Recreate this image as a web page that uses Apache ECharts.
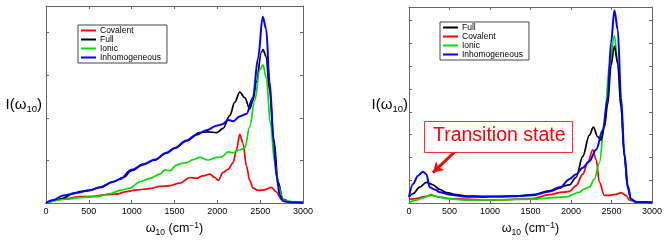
<!DOCTYPE html>
<html><head><meta charset="utf-8">
<script src="https://cdn.jsdelivr.net/npm/echarts@6/dist/echarts.min.js"></script>
<style>html,body{margin:0;padding:0;background:#fff}#c{width:666px;height:242px}</style>
</head><body><div id="c"></div>
<script>
// x-axis ticks (cm^-1)
const xTicks = [0, 500, 1000, 1500, 2000, 2500, 3000];

// Left panel: [omega10, intensity (arbitrary units, tick = 1)]
const leftCovalent = [[0,0],[240,0.11],[396,0.15],[551,0.16],[707,0.20],[824,0.21],[940,0.27],[1057,0.31],[1212,0.34],[1330,0.39],[1445,0.41],[1562,0.47],[1679,0.60],[1756,0.58],[1834,0.64],[1912,0.68],[1970,0.60],[2010,0.53],[2067,0.72],[2126,0.79],[2184,0.95],[2223,1.25],[2262,1.61],[2300,1.40],[2340,0.87],[2378,0.53],[2417,0.35],[2475,0.30],[2553,0.31],[2630,0.37],[2690,0.26],[2747,0.09],[2805,0.03],[3000,0.01]];
const leftFull = [[0,0],[163,0.09],[320,0.22],[396,0.27],[500,0.29],[630,0.37],[785,0.50],[900,0.60],[1000,0.76],[1135,0.90],[1270,1.01],[1405,1.17],[1500,1.28],[1640,1.46],[1795,1.65],[1892,1.67],[1990,1.65],[2067,1.75],[2145,2.05],[2203,2.36],[2262,2.60],[2320,2.47],[2378,2.21],[2415,2.40],[2456,2.85],[2515,3.54],[2533,3.60],[2570,3.43],[2610,2.63],[2660,1.48],[2710,0.49],[2765,0.09],[2845,0.03],[3000,0.01]];
const leftIonic = [[0,0],[240,0.09],[396,0.13],[590,0.15],[746,0.22],[863,0.30],[980,0.35],[1096,0.50],[1212,0.58],[1330,0.68],[1388,0.78],[1445,0.76],[1523,0.89],[1580,0.93],[1640,0.95],[1717,1.02],[1795,1.07],[1892,1.01],[1990,1.07],[2048,1.08],[2126,1.20],[2184,1.18],[2262,1.25],[2320,1.29],[2378,1.79],[2436,2.40],[2495,3.12],[2533,3.24],[2572,2.93],[2620,1.86],[2670,0.95],[2710,0.41],[2767,0.07],[2883,0.03],[3000,0.01]];
const leftInhomogeneous = [[0,0],[85,0.07],[200,0.18],[360,0.24],[500,0.30],[630,0.37],[785,0.50],[860,0.56],[1000,0.78],[1135,0.91],[1270,1.02],[1405,1.18],[1500,1.29],[1640,1.47],[1755,1.60],[1870,1.71],[2000,1.82],[2060,1.85],[2125,1.95],[2185,1.92],[2260,2.03],[2340,2.09],[2415,2.47],[2475,3.39],[2530,4.37],[2570,4.08],[2610,2.85],[2660,1.40],[2690,0.64],[2730,0.18],[2765,0.05],[2845,0.02],[3000,0.01]];

// Right panel
const rightFull = [[0,0.27],[49,0.41],[132,0.70],[214,0.91],[296,0.80],[378,0.60],[460,0.46],[584,0.37],[707,0.31],[912,0.30],[1118,0.30],[1323,0.31],[1529,0.37],[1734,0.54],[1858,0.70],[1981,0.80],[2063,1.13],[2145,2.05],[2227,2.98],[2276,3.33],[2330,2.91],[2371,2.76],[2412,3.33],[2453,4.33],[2494,6.04],[2536,6.89],[2577,6.11],[2618,4.19],[2659,2.05],[2700,0.70],[2741,0.17],[2803,0.06],[3000,0.03]];
const rightCovalent = [[0,0.17],[90,0.20],[173,0.27],[275,0.34],[378,0.26],[501,0.20],[707,0.17],[912,0.14],[1118,0.14],[1323,0.17],[1529,0.20],[1734,0.37],[1899,0.48],[1981,0.51],[2063,0.77],[2145,1.27],[2207,1.77],[2268,2.34],[2310,1.91],[2351,0.91],[2412,0.34],[2474,0.34],[2556,0.38],[2618,0.46],[2680,0.34],[2721,0.13],[2803,0.05],[3000,0.03]];
const rightIonic = [[0,0.03],[90,0.13],[173,0.23],[275,0.37],[337,0.30],[460,0.20],[707,0.13],[912,0.14],[1118,0.14],[1323,0.16],[1529,0.17],[1734,0.23],[1940,0.27],[2104,0.48],[2166,0.63],[2227,0.70],[2289,1.05],[2351,1.77],[2412,3.48],[2474,6.04],[2536,7.35],[2577,6.18],[2618,4.19],[2659,2.05],[2700,0.63],[2741,0.13],[2803,0.04],[3000,0.03]];
const rightInhomogeneous = [[0,0.27],[49,0.84],[111,1.20],[173,1.38],[214,1.27],[255,0.70],[316,0.60],[378,0.48],[501,0.37],[707,0.28],[912,0.27],[1118,0.28],[1323,0.30],[1529,0.34],[1734,0.51],[1858,0.66],[1981,1.05],[2063,1.27],[2145,1.55],[2227,1.84],[2310,2.34],[2392,3.19],[2453,4.62],[2494,7.04],[2536,8.46],[2577,7.61],[2618,4.62],[2659,2.19],[2700,0.77],[2741,0.17],[2803,0.05],[3000,0.03]];

const leftLegend = ['Covalent', 'Full', 'Ionic', 'Inhomogeneous'];
const rightLegend = ['Full', 'Covalent', 'Ionic', 'Inhomogeneous'];
const annotationText = 'Transition state';
const arrowFrom = [593, 2.35];
const arrowTo = [296, 1.34];

const colors = {Covalent:'#ff0000', Full:'#000000', Ionic:'#00e000', Inhomogeneous:'#0000ff'};
const FONT = 'Liberation Sans, Arial, sans-serif';
const boxColor = '#666';

const chart = echarts.init(document.getElementById('c'), null, {renderer:'canvas'});

function xAxes(gi){
  return [{
    type:'value', gridIndex:gi, min:0, max:3000, interval:500, position:'bottom',
    axisLine:{show:true, onZero:false, lineStyle:{color:boxColor, width:1}},
    axisTick:{show:true, inside:true, length:3, lineStyle:{color:boxColor}},
    axisLabel:{show:true, color:'#000', fontSize:9, fontFamily:FONT, margin:4,
      formatter: v => xTicks.indexOf(v) >= 0 ? String(v) : ''},
    splitLine:{show:false},
    name:'{a|ω}{s|10}{a| (cm}{p|−1}{a|)}', nameLocation:'middle', nameGap:13,
    nameTextStyle:{fontFamily:FONT, color:'#000', rich:{
      a:{fontSize:12.5, fontFamily:FONT, color:'#000', lineHeight:14},
      s:{fontSize:8.5, fontFamily:FONT, color:'#000', lineHeight:14, padding:[7,0,0,0]},
      p:{fontSize:8.5, fontFamily:FONT, color:'#000', lineHeight:14, padding:[0,0,6,0]}
    }}
  },{
    type:'value', gridIndex:gi, min:0, max:3000, interval:500, position:'top',
    axisLine:{show:true, onZero:false, lineStyle:{color:boxColor, width:1}},
    axisTick:{show:true, inside:true, length:3, lineStyle:{color:boxColor}},
    axisLabel:{show:false}, splitLine:{show:false}
  }];
}
function yAxes(gi, max, gap){
  return [{
    type:'value', gridIndex:gi, min:0, max:max, interval:1, position:'left',
    axisLine:{show:true, onZero:false, lineStyle:{color:boxColor, width:1}},
    axisTick:{show:true, inside:true, length:3, lineStyle:{color:boxColor}},
    axisLabel:{show:false}, splitLine:{show:false},
    name:'{a|I(ω}{s|10}{a|)}', nameLocation:'middle', nameRotate:0, nameGap:gap,
    nameTextStyle:{fontFamily:FONT, color:'#000', rich:{
      a:{fontSize:15, fontFamily:FONT, color:'#000', lineHeight:17},
      s:{fontSize:9.5, fontFamily:FONT, color:'#000', lineHeight:17, padding:[9,0,0,0]}
    }}
  },{
    type:'value', gridIndex:gi, min:0, max:max, interval:1, position:'right',
    axisLine:{show:true, onZero:false, lineStyle:{color:boxColor, width:1}},
    axisTick:{show:true, inside:true, length:3, lineStyle:{color:boxColor}},
    axisLabel:{show:false}, splitLine:{show:false}
  }];
}
function mk(name, data, xi, yi, extra){
  return Object.assign({
    type:'line', name:name, data:data, xAxisIndex:xi, yAxisIndex:yi,
    showSymbol:false, smooth:0.35, smoothMonotone:'x', silent:true,
    lineStyle:{color:colors[name], width: name==='Inhomogeneous' ? 2 : 1.7},
    itemStyle:{color:colors[name]}, z: name==='Inhomogeneous' ? 3 : 2
  }, extra||{});
}
function legend(data, left, top){
  return {
    data:data, orient:'vertical', left:left, top:top, icon:'rect', itemWidth:15, itemHeight:2,
    itemGap:0, padding:[1,6,1,3], borderColor:'#444', borderWidth:1, backgroundColor:'#fff',
    selectedMode:false,
    textStyle:{fontSize:8.5, fontFamily:FONT, color:'#000', lineHeight:9, padding:[0,0,0,-1]}
  };
}

const option = {
  animation:false,
  backgroundColor:'#fff',
  grid:[
    {left:46, top:6, width:257, height:202, containLabel:false},
    {left:409, top:7, width:243, height:201, containLabel:false}
  ],
  xAxis:[...xAxes(0), ...xAxes(1)],
  yAxis:[...yAxes(0, 4.62, 4), ...yAxes(1, 8.6, 1)],
  legend:[legend(leftLegend, 78, 25), legend(rightLegend, 440, 22)],
  series:[
    mk('Covalent', leftCovalent, 0, 0),
    mk('Full', leftFull, 0, 0),
    mk('Ionic', leftIonic, 0, 0),
    mk('Inhomogeneous', leftInhomogeneous, 0, 0),
    mk('Covalent', rightCovalent, 2, 2),
    mk('Ionic', rightIonic, 2, 2),
    mk('Full', rightFull, 2, 2, {
      markLine:{silent:true, symbol:['none','arrow'], symbolSize:[9,10], label:{show:false},
        lineStyle:{color:'#ff0000', width:3, type:'solid'},
        data:[[{coord:arrowFrom},{coord:arrowTo}]]}
    }),
    mk('Inhomogeneous', rightInhomogeneous, 2, 2)
  ],
  graphic:[
    {type:'rect', left:424, top:121, shape:{width:148, height:31},
     style:{fill:'#fff', stroke:'#ff3030', lineWidth:1}, z:10},
    {type:'text', left:433, top:126, z:11,
     style:{text:annotationText, fill:'#ff0000', font:'19.5px ' + FONT}}
  ]
};
chart.setOption(option);
</script></body></html>
